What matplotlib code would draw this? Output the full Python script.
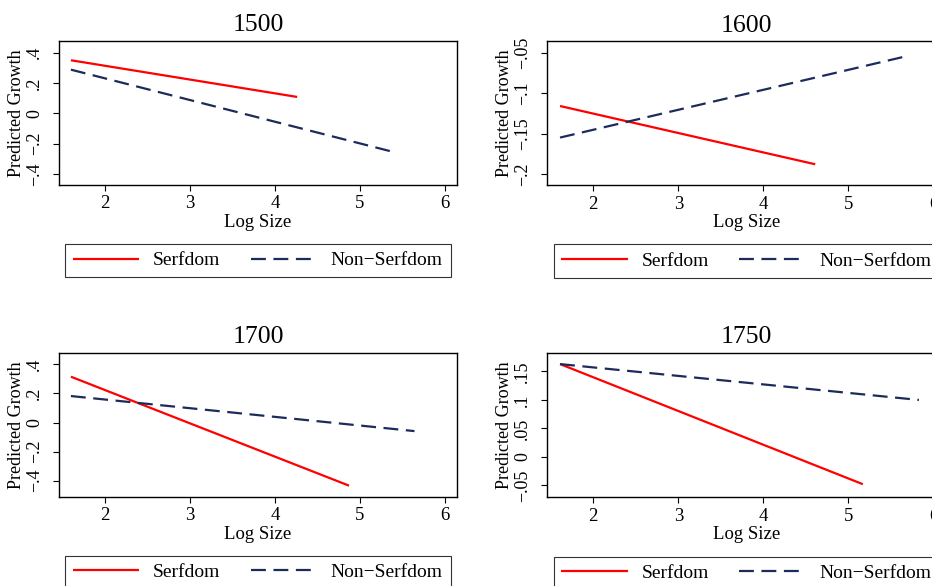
import matplotlib
matplotlib.use('Agg')
import matplotlib.pyplot as plt
from matplotlib.ticker import FixedLocator, FixedFormatter

# panel titles
years = ['1500', '1600', '1700', '1750']

# end points of the fitted lines (log size, predicted growth)
serf_x = [[1.60, 4.26], [1.61, 4.61], [1.60, 4.87], [1.61, 5.17]]
serf_y = [[0.350, 0.108], [-0.116, -0.188], [0.315, -0.434], [0.163, -0.048]]
nonserf_x = [[1.60, 5.42], [1.61, 5.70], [1.60, 5.64], [1.61, 5.83]]
nonserf_y = [[0.288, -0.259], [-0.155, -0.054], [0.182, -0.059], [0.163, 0.100]]

# y ticks and labels
y_ticks = [[-0.4, -0.2, 0, 0.2, 0.4],
           [-0.2, -0.15, -0.1, -0.05],
           [-0.4, -0.2, 0, 0.2, 0.4],
           [-0.05, 0, 0.05, 0.1, 0.15]]
y_labels = [['\u2212.4', '\u2212.2', '0', '.2', '.4'],
            ['\u2212.2', '\u2212.15', '\u2212.1', '\u2212.05'],
            ['\u2212.4', '\u2212.2', '0', '.2', '.4'],
            ['\u2212.05', '0', '.05', '.1', '.15']]
y_lims = [(-0.473, 0.477), (-0.214, -0.036), (-0.51, 0.48), (-0.071, 0.183)]
x_ticks = [2, 3, 4, 5, 6]

RED = '#ff0000'
NAVY = '#1c2b5a'


def main():
    plt.rcParams['font.family'] = ['Liberation Serif', 'DejaVu Serif']
    plt.rcParams['axes.linewidth'] = 1.0

    W, H = 932, 586
    fig = plt.figure(figsize=(W / 100, H / 100), dpi=100)

    # axes boxes in pixels: left, top, right, bottom
    boxes = [(59, 41, 457, 185), (547.3, 41.3, 945.3, 185.3),
             (59, 352.7, 457, 496.7), (547.3, 352.7, 945.3, 497.3)]

    for i in range(4):
        l, t, r, b = boxes[i]
        ax = fig.add_axes([l / W, 1 - b / H, (r - l) / W, (b - t) / H])

        ax.plot(serf_x[i], serf_y[i], color=RED, lw=1.6, label='Serfdom',
                solid_capstyle='butt')
        ax.plot(nonserf_x[i], nonserf_y[i], color=NAVY, lw=1.6,
                linestyle=(0, (6.7, 3.4)), label='Non\u2212Serfdom',
                dash_capstyle='butt')

        ax.set_xlim(1.46, 6.14)
        ax.set_ylim(*y_lims[i])
        ax.xaxis.set_major_locator(FixedLocator(x_ticks))
        ax.yaxis.set_major_locator(FixedLocator(y_ticks[i]))
        ax.yaxis.set_major_formatter(FixedFormatter(y_labels[i]))

        ax.tick_params(axis='x', length=4.5, width=0.8, labelsize=13.5, pad=3)
        ax.tick_params(axis='y', length=4.5, width=0.8, labelsize=13, pad=7)
        for lab in ax.get_yticklabels():
            lab.set_rotation(90)
            lab.set_va('center')

        ax.set_xlabel('Log Size', fontsize=13.5, labelpad=1)
        ax.set_ylabel('Predicted Growth', fontsize=13, labelpad=1)
        ax.set_title(years[i], fontsize=18.5, pad=7)

        leg = ax.legend(loc='upper center', bbox_to_anchor=(0.5, -0.41),
                        ncol=2, fontsize=14, frameon=True, fancybox=False,
                        edgecolor='black', borderaxespad=0, borderpad=0.4,
                        handlelength=3.4, handletextpad=0.72,
                        columnspacing=1.55)
        leg.get_frame().set_linewidth(0.8)

    fig.savefig('out.png', dpi=100)


if __name__ == '__main__':
    main()
